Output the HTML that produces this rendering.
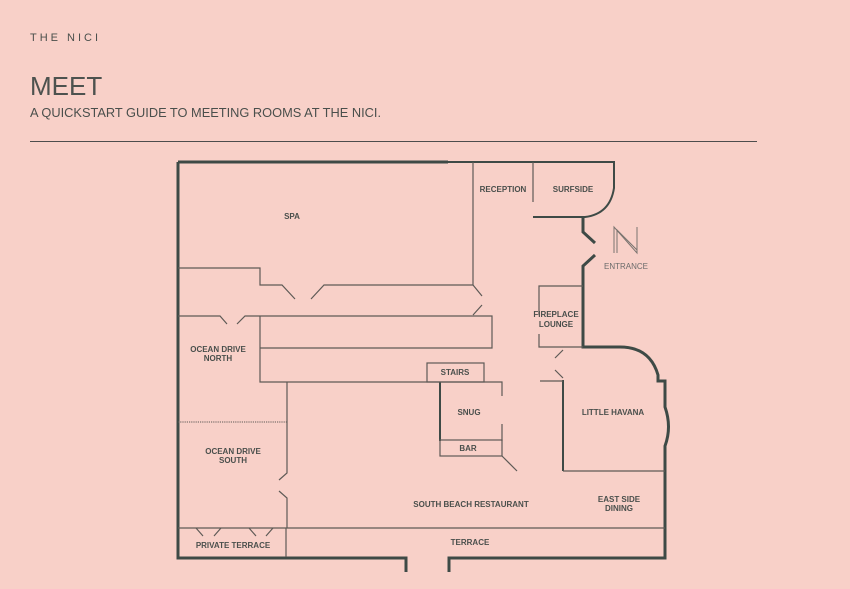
<!DOCTYPE html>
<html><head><meta charset="utf-8"><style>
html,body{margin:0;padding:0;background:#f8d0c8;}
svg{display:block}
text{font-family:"Liberation Sans",sans-serif;fill:#4a4f4c}
.l{font-size:8px;font-weight:bold;text-anchor:middle}
</style></head><body>
<svg width="850" height="589" viewBox="0 0 850 589" xmlns="http://www.w3.org/2000/svg">
<rect width="850" height="589" fill="#f8d0c8"/>
<text x="30" y="41" font-size="11" letter-spacing="3">THE NICI</text>
<text x="30" y="95" font-size="26" style="fill:#4d524f">MEET</text>
<text x="30" y="117" font-size="12.5" textLength="351" lengthAdjust="spacingAndGlyphs">A QUICKSTART GUIDE TO MEETING ROOMS AT THE NICI.</text>
<line x1="30" y1="141.5" x2="757" y2="141.5" stroke="#4d4d4d" stroke-width="1"/>

<g fill="none" stroke="#3e4a46" stroke-width="3">
<path d="M178 162 V558 H406 V572"/>
<path d="M449 572 V558 H665 V446 Q672 427 665 407 V381 H658 V375 Q650 347 620 347 H583 V266 L595 255"/>
<path d="M583 217 V232 L595 243"/>
<path d="M178 162 H448"/>
</g>
<g fill="none" stroke="#3e4a46" stroke-width="2">
<path d="M448 162 H614 V188 Q610 214 585 217 H533"/>
<path d="M440 382 V441"/>
<path d="M563 380 V471"/>
</g>
<g fill="none" stroke="#5e5a56" stroke-width="1.2">
<path d="M533 162 V202"/>
<path d="M178 268 H260 V285 H282 L295 299 M311 299 L324 285 H473 V162"/>
<path d="M473 285 L482 296 M482 305 L473 315"/>
<path d="M178 316 H220 L227 324 M237 324 L245 316 H492 V348 H260"/>
<path d="M260 316 V382 H502 V396 M502 424 V441"/>
<rect x="427" y="363" width="57" height="19"/>
<rect x="440" y="440" width="62" height="16"/>
<path d="M502 456 L517 471"/>
<path d="M287 382 V473 L279 480 M279 491 L287 498 V528"/>
<path d="M178 528 H665"/>
<path d="M196 528 L203 536 M214 536 L221 528 M249 528 L256 536 M266 536 L273 528"/>
<path d="M286 528 V557"/>
<path d="M539 315 V286 H583 M539 334 V347 H583"/>
<path d="M555 358 L563 350 M555 370 L563 378 M540 381 H563"/>
<path d="M563 471 H665"/>
</g>
<line x1="178" y1="422" x2="287" y2="422" stroke="#5e5a56" stroke-width="1" stroke-dasharray="1.2 1"/>
<g fill="none" stroke="#7a7470" stroke-width="1">
<path d="M614 253 V227 L637 253 V227"/>
<path d="M617 253 V230 L637 250"/>
</g>
<text class="l" x="292" y="219">SPA</text>
<text class="l" x="503" y="192">RECEPTION</text>
<text class="l" x="573" y="192">SURFSIDE</text>
<text x="626" y="269" font-size="8" text-anchor="middle" style="fill:#6b6b6b">ENTRANCE</text>
<text class="l" x="556" y="317">FIREPLACE</text>
<text class="l" x="556" y="327">LOUNGE</text>
<text class="l" x="218" y="352">OCEAN DRIVE</text>
<text class="l" x="218" y="361">NORTH</text>
<text class="l" x="455" y="375">STAIRS</text>
<text class="l" x="469" y="415">SNUG</text>
<text class="l" x="468" y="451">BAR</text>
<text class="l" x="613" y="415">LITTLE HAVANA</text>
<text class="l" x="233" y="454">OCEAN DRIVE</text>
<text class="l" x="233" y="463">SOUTH</text>
<text class="l" x="471" y="507">SOUTH BEACH RESTAURANT</text>
<text class="l" x="619" y="502">EAST SIDE</text>
<text class="l" x="619" y="511">DINING</text>
<text class="l" x="233" y="548">PRIVATE TERRACE</text>
<text class="l" x="470" y="545">TERRACE</text>
</svg>
</body></html>
